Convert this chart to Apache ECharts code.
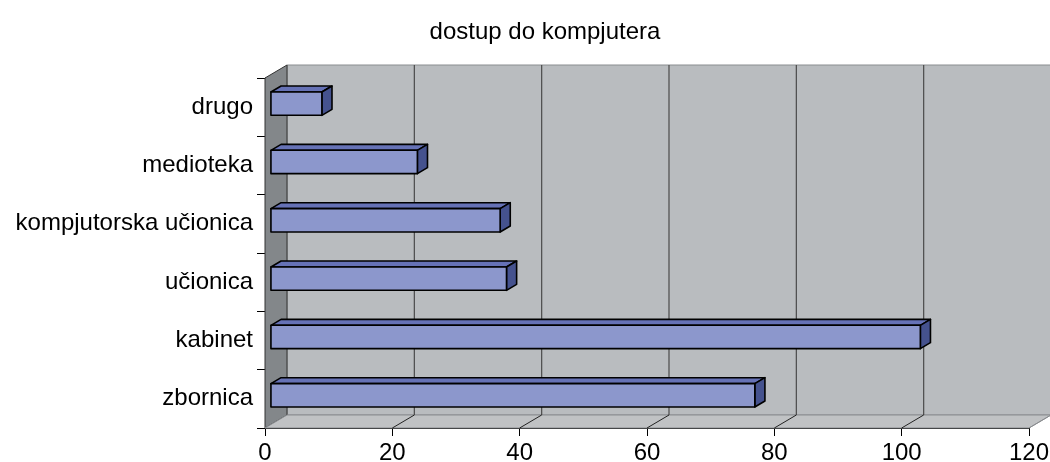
<!DOCTYPE html>
<html>
<head>
<meta charset="utf-8">
<script src="https://cdn.jsdelivr.net/npm/echarts@6/dist/echarts.min.js"></script>
<style>
html,body{margin:0;padding:0;background:#fff;}
#chart{width:1050px;height:462px;}
</style>
</head>
<body>
<div id="chart"></div>
<script>
var categories = ['zbornica', 'kabinet', 'učionica', 'kompjutorska učionica', 'medioteka', 'drugo'];
var values = [76, 102, 37, 36, 23, 8];
var xTicks = [0, 20, 40, 60, 80, 100, 120];

// 3d depth offset (px) of the back wall, and where the bars sit in it
var DX = 22, DY = -13;
var barFront = 0.27, barBack = 0.73;

var chart = echarts.init(document.getElementById('chart'));

function renderWalls(params, api) {
	var cs = params.coordSys;
	var l = cs.x, t = cs.y, r = cs.x + cs.width, b = cs.y + cs.height;
	var kids = [];
	// back wall
	kids.push({type: 'rect', shape: {x: l + DX, y: t + DY, width: cs.width, height: cs.height},
		style: {fill: '#b9bcbf', stroke: '#8a8d90', lineWidth: 1}});
	// left side wall
	kids.push({type: 'polygon', shape: {points: [[l, t], [l + DX, t + DY], [l + DX, b + DY], [l, b]]},
		style: {fill: '#83878a', stroke: '#333', lineWidth: 1}});
	// floor
	kids.push({type: 'polygon', shape: {points: [[l, b], [l + DX, b + DY], [r + DX, b + DY], [r, b]]},
		style: {fill: '#c0c2c4', stroke: '#8a8d90', lineWidth: 1}});
	// grid lines on wall + floor
	xTicks.forEach(function (v) {
		var x = api.coord([v, 0])[0];
		if (v > 0 && v < 120) {
			kids.push({type: 'line', shape: {x1: x + DX, y1: t + DY, x2: x + DX, y2: b + DY},
				style: {stroke: '#4a4a4a', lineWidth: 1.2}});
		}
		if (v > 0) {
			kids.push({type: 'line', shape: {x1: x, y1: b, x2: x + DX, y2: b + DY},
				style: {stroke: v < 120 ? '#222' : '#8a8d90', lineWidth: 1}});
		}
	});
	return {type: 'group', children: kids};
}

function renderBar(params, api) {
	var v = api.value(0), c = api.value(1);
	var p0 = api.coord([0, c]);
	var p1 = api.coord([v, c]);
	var band = api.size([0, 1])[1];
	var h = band * 0.4;
	var fx = DX * barFront, fy = DY * barFront;
	var bx = DX * barBack, by = DY * barBack;
	var x0 = p0[0] + fx, x1 = p1[0] + fx;
	var y0 = p0[1] + fy - h / 2, y1 = y0 + h;
	var ddx = bx - fx, ddy = by - fy;
	var st = {stroke: '#000', lineWidth: 1.6, lineJoin: 'round'};
	return {type: 'group', children: [
		{type: 'polygon', shape: {points: [[x0, y0], [x0 + ddx, y0 + ddy], [x1 + ddx, y0 + ddy], [x1, y0]]},
			style: Object.assign({fill: '#6672b6'}, st)},
		{type: 'polygon', shape: {points: [[x1, y0], [x1 + ddx, y0 + ddy], [x1 + ddx, y1 + ddy], [x1, y1]]},
			style: Object.assign({fill: '#45528e'}, st)},
		{type: 'rect', shape: {x: x0, y: y0, width: x1 - x0, height: h},
			style: Object.assign({fill: '#8c97cc'}, st)}
	]};
}

chart.setOption({
	animation: false,
	title: {
		text: 'dostup do kompjutera',
		left: 540, top: 15, textAlign: 'center',
		textStyle: {fontFamily: 'Liberation Sans', fontSize: 24, fontWeight: 'normal', color: '#000'}
	},
	grid: {left: 265, right: 21, top: 78, bottom: 34, containLabel: false, outerBoundsMode: 'none'},
	xAxis: {
		type: 'value', min: 0, max: 120, interval: 20,
		splitLine: {show: false},
		axisLine: {show: true, lineStyle: {color: '#000', width: 1}},
		axisTick: {show: true, length: 8, lineStyle: {color: '#000'}},
		axisLabel: {margin: 13, fontFamily: 'Liberation Sans', fontSize: 24, color: '#000'}
	},
	yAxis: {
		type: 'category', data: categories,
		axisLine: {show: true, lineStyle: {color: '#000', width: 1}},
		axisTick: {show: true, length: 8, lineStyle: {color: '#000'}},
		axisLabel: {margin: 12, fontFamily: 'Liberation Sans', fontSize: 24, color: '#000'}
	},
	series: [
		{type: 'custom', z: 1, silent: true, data: [[0, 0]], renderItem: renderWalls},
		{type: 'custom', z: 2, encode: {x: 0, y: 1},
			data: values.map(function (v, i) { return [v, i]; }),
			renderItem: renderBar}
	]
});
</script>
</body>
</html>
